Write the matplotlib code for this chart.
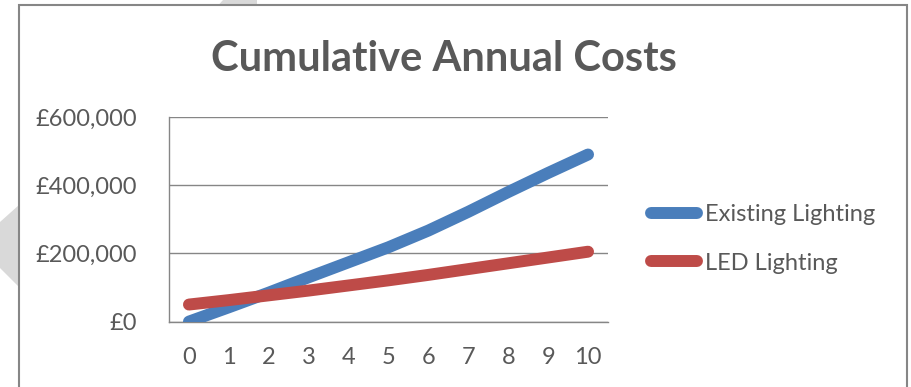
import matplotlib
matplotlib.use("Agg")
import matplotlib.pyplot as plt
from matplotlib.patches import Polygon, Rectangle
from matplotlib.ticker import FuncFormatter

# Data
years = list(range(0, 11))
existing_lighting = [0, 42, 85, 130, 174, 218, 267, 322, 380, 436, 490]   # £ thousands
led_lighting = [50, 63, 77, 91, 106, 121, 137, 154, 171, 188, 205]        # £ thousands
series_names = ["Existing Lighting", "LED Lighting"]
title_text = "Cumulative Annual Costs"

W, H = 911, 387
DPI = 100
plt.rcParams["font.family"] = ["Lato", "DejaVu Sans"]

fig = plt.figure(figsize=(W / DPI, H / DPI), dpi=DPI)
fig.patch.set_facecolor("white")


def fx(x):
    return x / W


def fy(y):
    return 1 - y / H


# Light gray decorative shapes behind the chart frame
fig.patches.append(Polygon([(fx(19), fy(205)), (fx(0), fy(222)), (fx(0), fy(268)), (fx(19), fy(287))],
                           closed=True, transform=fig.transFigure, facecolor="#d9d9d9",
                           edgecolor="none", zorder=0))
fig.patches.append(Polygon([(fx(219), fy(4.5)), (fx(223), fy(0)), (fx(257), fy(0)), (fx(257), fy(4.5))],
                           closed=True, transform=fig.transFigure, facecolor="#d9d9d9",
                           edgecolor="none", zorder=0))

# Chart frame
fig.patches.append(Rectangle((fx(19), fy(400)), fx(907) - fx(19), fy(5) - fy(400),
                             transform=fig.transFigure, facecolor="none",
                             edgecolor="#868686", linewidth=1.5, zorder=1))

left, right, top, bottom = 169, 608, 117, 321.6
ax = fig.add_axes([fx(left), fy(bottom), fx(right) - fx(left), fy(top) - fy(bottom)])
ax.set_facecolor("none")

blue = "#4a7ebb"
red = "#be4b48"
lw = 8.6
ax.plot(years, [v * 1000 for v in existing_lighting], color=blue, lw=lw,
        solid_capstyle="round", solid_joinstyle="round", label=series_names[0], zorder=3)
ax.plot(years, [v * 1000 for v in led_lighting], color=red, lw=lw,
        solid_capstyle="round", solid_joinstyle="round", label=series_names[1], zorder=4)

ax.set_xlim(-0.5, 10.5)
ax.set_ylim(0, 600000)
ax.set_xticks(years)
ax.set_yticks([0, 200000, 400000, 600000])
ax.yaxis.set_major_formatter(FuncFormatter(lambda v, p: f"£{int(v):,}"))
ax.grid(axis="y", color="#868686", linewidth=1.0)
ax.set_axisbelow(True)
for s in ["top", "right"]:
    ax.spines[s].set_visible(False)
for s in ["left", "bottom"]:
    ax.spines[s].set_color("#868686")
    ax.spines[s].set_linewidth(1.0)
ax.tick_params(axis="both", length=0, labelsize=17, labelcolor="#595959")
ax.tick_params(axis="y", pad=23)
ax.tick_params(axis="x", pad=18)

fig.text(fx(444), fy(59), title_text, ha="center", va="center",
         fontsize=30, fontweight="bold", color="#595959")

leg = ax.legend(loc="upper left", bbox_to_anchor=(fx(651), fy(204)),
                bbox_transform=fig.transFigure, frameon=False, fontsize=17,
                handlelength=1.95, handletextpad=0.35, labelspacing=1.17,
                borderpad=0, borderaxespad=0)
for t in leg.get_texts():
    t.set_color("#595959")
for h in leg.get_lines():
    h.set_solid_capstyle("round")

fig.savefig("out.png", dpi=DPI)
